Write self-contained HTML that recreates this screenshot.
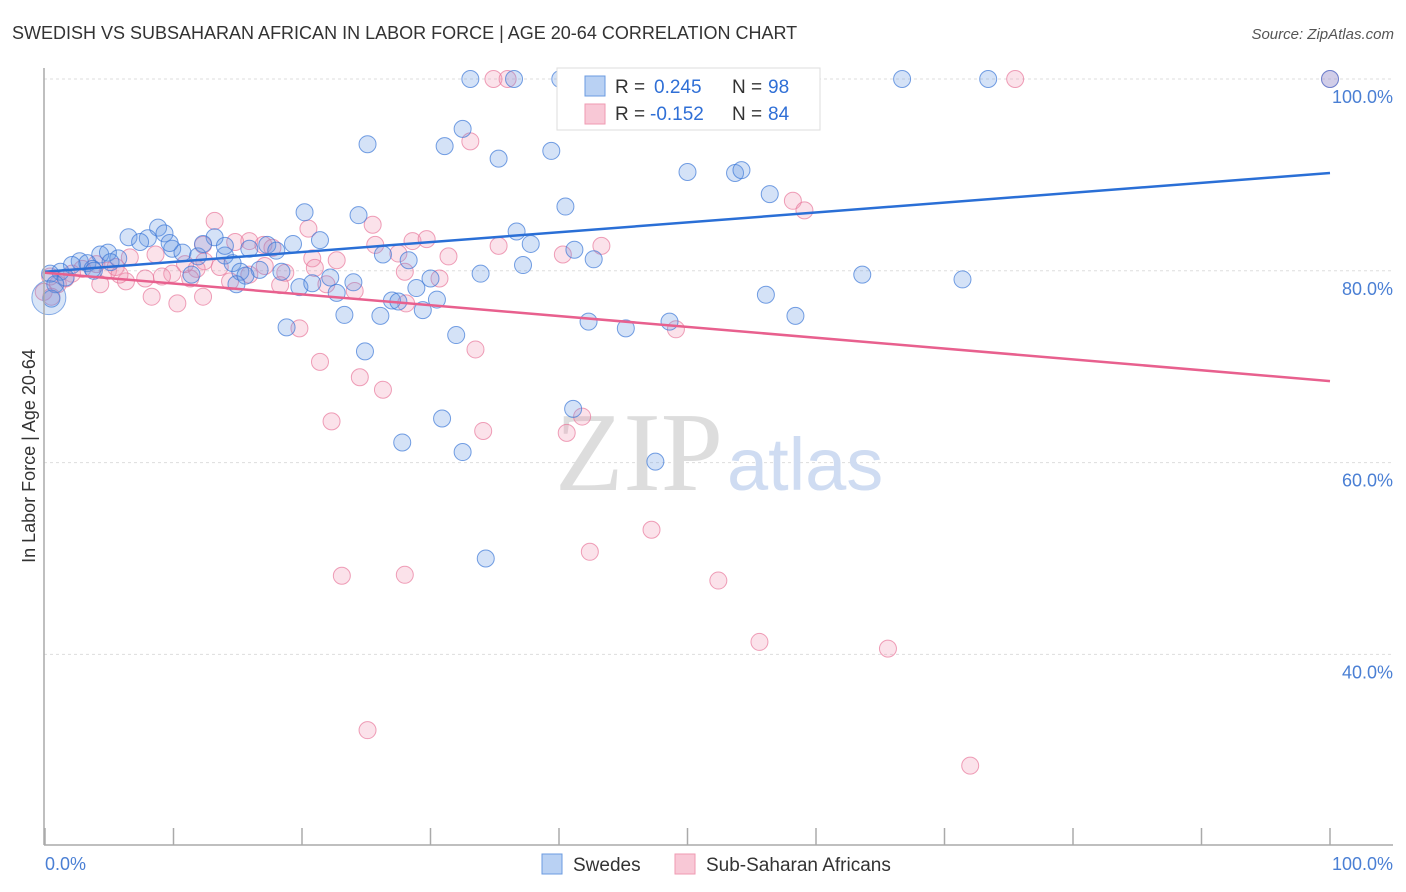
<!DOCTYPE html>
<html><head><meta charset="utf-8"><style>
body{margin:0;background:#fff;font-family:"Liberation Sans",sans-serif}
svg{display:block}
</style></head><body>
<svg id="chart" width="1406" height="892">
<text x="12" y="39" font-size="18" fill="#333">SWEDISH VS SUBSAHARAN AFRICAN IN LABOR FORCE | AGE 20-64 CORRELATION CHART</text>
<text x="1394" y="39" font-size="15" fill="#555" text-anchor="end" font-style="italic">Source: ZipAtlas.com</text>
<g id="grid"></g>
<text x="555" y="490" font-size="112" fill="#ddd" font-family="Liberation Serif,serif">ZIP<tspan fill="#cfdcf2" font-family="Liberation Sans,sans-serif" font-size="74" dx="4">atlas</tspan></text>
<g id="points"></g>
<g id="lines"></g>
<line x1="44" y1="68" x2="44" y2="845" stroke="#aaa" stroke-width="1.5"/>
<line x1="44" y1="845" x2="1393" y2="845" stroke="#aaa" stroke-width="1.5"/>
<g id="ticks"></g>
<text x="45" y="870" font-size="18" fill="#4a7fd4">0.0%</text>
<text x="1393" y="870" font-size="18" fill="#4a7fd4" text-anchor="end">100.0%</text>
<text x="35" y="456" font-size="18" fill="#333" text-anchor="middle" transform="rotate(-90 35 456)">In Labor Force | Age 20-64</text>
<g>
<rect x="557" y="68" width="263" height="62" fill="#fff" stroke="#ddd"/>
<rect x="585" y="76" width="20" height="20" fill="#b9d1f3" stroke="#6b9be0"/>
<rect x="585" y="104" width="20" height="20" fill="#f8c8d6" stroke="#ef9ab2"/>
<text x="615" y="93" font-size="19" fill="#333">R = </text>
<text x="654" y="93" font-size="19" fill="#2f6fd6">0.245</text>
<text x="732" y="93" font-size="19" fill="#333">N = </text>
<text x="768" y="93" font-size="19" fill="#2f6fd6">98</text>
<text x="615" y="120" font-size="19" fill="#333">R = </text>
<text x="650" y="120" font-size="19" fill="#2f6fd6">-0.152</text>
<text x="732" y="120" font-size="19" fill="#333">N = </text>
<text x="768" y="120" font-size="19" fill="#2f6fd6">84</text>
</g>
<g>
<rect x="542" y="854" width="20" height="20" fill="#b9d1f3" stroke="#6b9be0"/>
<text x="573" y="871" font-size="19" fill="#333">Swedes</text>
<rect x="675" y="854" width="20" height="20" fill="#f8c8d6" stroke="#ef9ab2"/>
<text x="706" y="871" font-size="19" fill="#333">Sub-Saharan Africans</text>
</g>
</svg>
<script>
const yTicks=[100,80,60,40];
const xTickCount=10;
const blueX=[33.1,36.5,40.1,41.6,47.8,66.7,73.4,100,32.5,25.1,31.1,35.3,39.4,50,53.7,54.2,56.4,40.5,20.2,24.4,36.7,37.8,21.4,19.3,26.3,28.3,41.2,42.7,37.2,33.9,63.6,71.4,22.2,24,19.8,20.8,22.7,27,27.5,28.9,30,30.5,29.4,56.1,58.4,42.3,45.2,48.6,23.3,26.1,18.8,32,24.9,41.1,30.9,27.8,32.5,47.5,34.3,6.5,8.8,9.3,8,7.4,9.9,10.7,11.9,13.2,12.3,14,14.6,15.2,16.7,15.6,14.9,18.4,11.4,4.3,4.9,5.7,2.7,2.1,3.3,1.2,0.4,1.6,0.8,0.5,3.7,5.1,17.3,18,3.8,14,9.7,15.9];
const blueY=[100,100,100,100,100,100,100,100,94.8,93.2,93,91.7,92.5,90.3,90.2,90.5,88,86.7,86.1,85.8,84.1,82.8,83.2,82.8,81.7,81.1,82.2,81.2,80.6,79.7,79.6,79.1,79.3,78.8,78.3,78.7,77.7,76.9,76.8,78.2,79.2,77,75.9,77.5,75.3,74.7,74,74.7,75.4,75.3,74.1,73.3,71.6,65.6,64.6,62.1,61.1,60.1,50,83.5,84.5,83.9,83.4,83,82.3,81.9,81.5,83.5,82.8,81.6,80.8,79.9,80.1,79.5,78.6,79.9,79.6,81.7,81.9,81.3,81,80.6,80.8,79.9,79.7,79.3,78.6,77.1,80.2,80.9,82.7,82.1,80,82.6,82.9,82.3];
const pinkX=[34.9,36,45.9,75.5,100,33.1,58.2,59.1,13.2,25.5,20.5,15.9,17,17.7,14.8,12.3,28.6,29.7,25.7,27.5,31.4,35.3,40.3,43.3,22.7,20.8,18.7,28,30.7,12.4,11.8,11.3,9.9,9.1,7.8,6.3,4.9,4,2.9,2.1,1.6,1,0.4,5.5,6.6,8.6,10.9,13.6,14.4,18.3,8.3,10.3,12.3,21.9,24.1,28.1,19.8,33.5,21.4,24.5,26.3,49.1,22.3,34.1,40.6,41.8,47.2,42.4,23.1,28,52.4,55.6,65.6,25.1,72,-0.1,0.5,4.3,5.8,17.1,21,15.9];
const pinkY=[100,100,100,100,100,93.5,87.3,86.3,85.2,84.8,84.4,83.1,82.7,82.4,83,82.7,83.1,83.3,82.7,81.8,81.5,82.6,81.7,82.6,81.1,81.3,79.8,79.9,79.2,81,80.2,79.2,79.7,79.4,79.2,78.9,80,80.7,80.2,79.7,79.2,78.6,79.4,80.4,81.4,81.7,80.7,80.4,78.9,78.5,77.3,76.6,77.3,78.6,77.9,76.6,74,71.8,70.5,68.9,67.6,73.9,64.3,63.3,63.1,64.8,53,50.7,48.2,48.3,47.7,41.3,40.6,32.1,28.4,77.8,77.3,78.6,79.6,80.5,80.3,79.6];
const trendBlue=[79.9,90.2];
const trendPink=[79.8,68.5];
const NS="http://www.w3.org/2000/svg";
function xs(v){return 45+v*12.85;}
function ys(v){return 79+(100-v)*9.59;}
function mk(tag,attrs,parent){const e=document.createElementNS(NS,tag);for(const k in attrs)e.setAttribute(k,attrs[k]);parent.appendChild(e);return e;}
const grid=document.getElementById('grid'),ticks=document.getElementById('ticks'),pts=document.getElementById('points'),lines=document.getElementById('lines');
yTicks.forEach(t=>{
 const l=mk('line',{x1:44,x2:1393,y1:ys(t),y2:ys(t),stroke:'#ddd','stroke-dasharray':'3,3'},grid);
 
 
 const tx=mk('text',{x:1393,y:ys(t)+24,'font-size':18,fill:'#4a7fd4','text-anchor':'end'},grid);
 tx.textContent=t.toFixed(1)+'%';
 
 
});
for(let i=0;i<=xTickCount;i++){
 const x=xs(i*100/xTickCount);
 const l=mk('line',{x1:x,x2:x,y1:828,y2:845,stroke:'#aaa','stroke-width':1.5},ticks);
 
 
}
function drawSeries(X,Y,fill,stroke,name){
 X.forEach((v,i)=>{
  const c=mk('circle',{cx:xs(v),cy:ys(Y[i]),r:8.5,fill:fill,stroke:stroke,'stroke-width':1},pts);
  
  
 });
}
drawSeries(pinkX,pinkY,'rgba(240,150,178,0.28)','rgba(232,120,155,0.7)','subsaharan');
drawSeries(blueX,blueY,'rgba(100,150,225,0.28)','rgba(60,120,215,0.7)','swedes');
const big=mk('circle',{cx:xs(0.3),cy:ys(77.2),r:17,fill:'rgba(100,150,225,0.25)',stroke:'rgba(60,120,215,0.6)'},pts);


const lb=mk('line',{x1:xs(0),x2:xs(100),y1:ys(trendBlue[0]),y2:ys(trendBlue[1]),stroke:'#2a6fd6','stroke-width':2.5},lines);


const lp=mk('line',{x1:xs(0),x2:xs(100),y1:ys(trendPink[0]),y2:ys(trendPink[1]),stroke:'#e8608e','stroke-width':2.5},lines);


</script>
</body></html>
